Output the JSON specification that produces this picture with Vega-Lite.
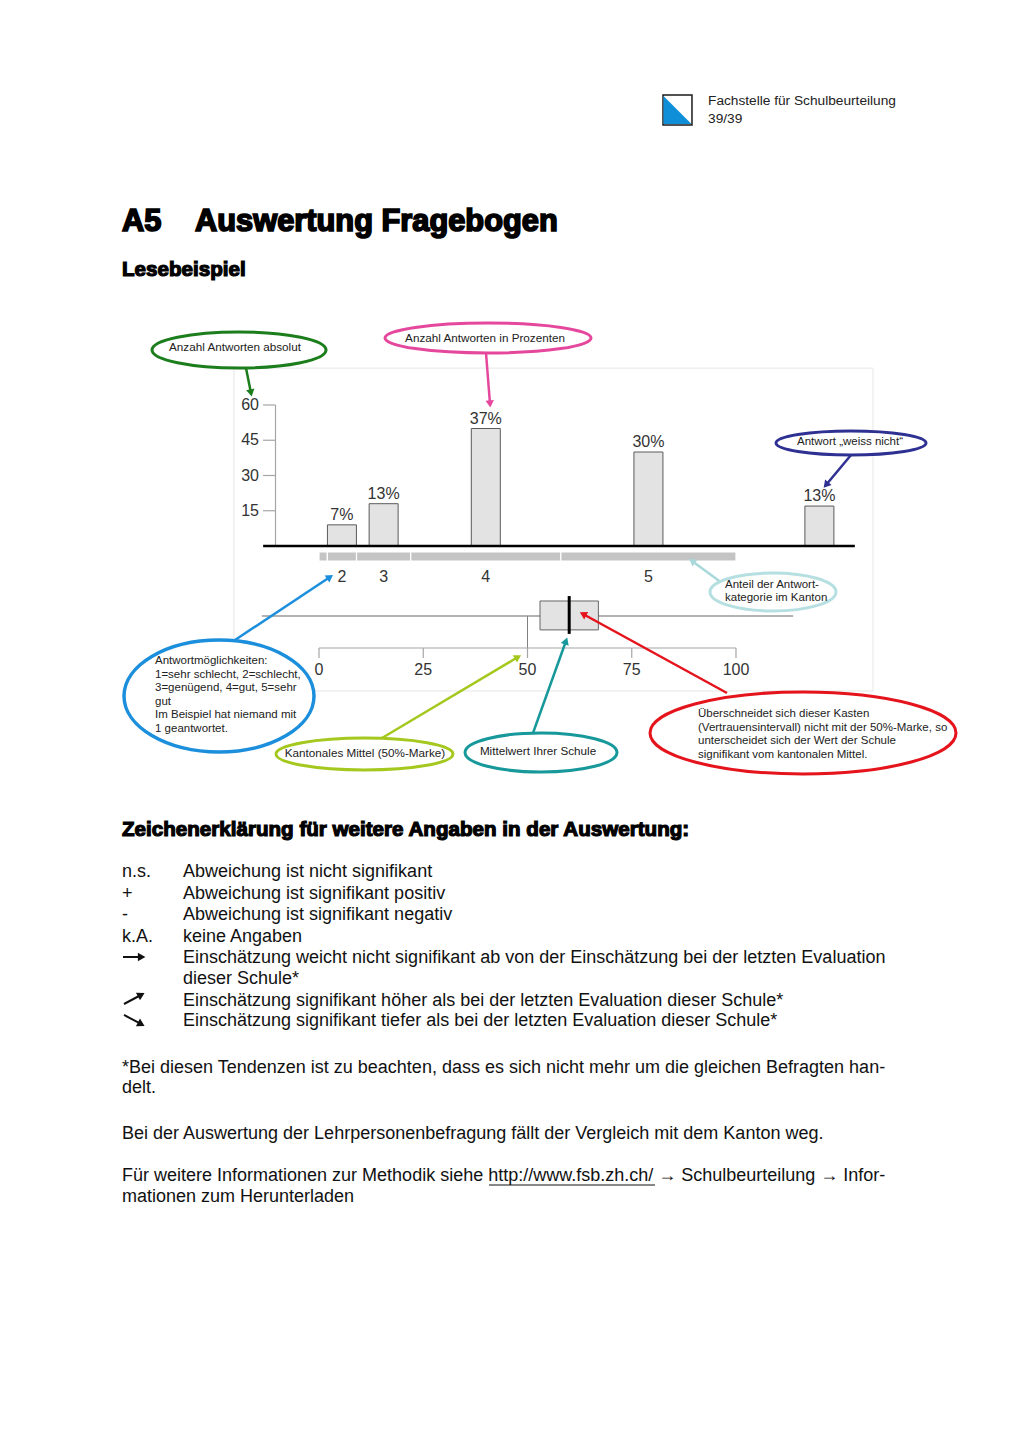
{
  "$schema": "https://vega.github.io/schema/vega-lite/v6.json",
  "width": 1024,
  "height": 1449,
  "autosize": {"type": "none"},
  "padding": 0,
  "background": "white",
  "config": {"view": {"stroke": null}, "font": "Liberation Sans"},
  "datasets": {
    "answers": [
      {"cat": "2", "mid": 5.5, "count": 9, "pct": "7%"},
      {"cat": "3", "mid": 15.5, "count": 18, "pct": "13%"},
      {"cat": "4", "mid": 40, "count": 50, "pct": "37%"},
      {"cat": "5", "mid": 79, "count": 40, "pct": "30%"},
      {"cat": "k.A.", "mid": 120, "count": 17, "pct": "13%"}
    ],
    "canton": [
      {"cat": "1", "start": 0, "end": 2},
      {"cat": "2", "start": 2, "end": 9},
      {"cat": "3", "start": 9, "end": 22},
      {"cat": "4", "start": 22, "end": 58},
      {"cat": "5", "start": 58, "end": 100}
    ],
    "school": [
      {"mean": 60, "ciLow": 53, "ciHigh": 67, "cantonMean": 50}
    ],
    "countTicks": [{"v": 15}, {"v": 30}, {"v": 45}, {"v": 60}],
    "scoreTicks": [{"v": 0}, {"v": 25}, {"v": 50}, {"v": 75}, {"v": 100}],
    "notes": [
      {"id": "abs", "label": "Anzahl Antworten absolut", "cu": -19.18, "cn": 83.4, "tu": -20.14, "tn": 84.68, "au": -17.51, "an": 75.74, "bu": -16.31, "bn": 65.11},
      {"id": "pct", "label": "Anzahl Antworten in Prozenten", "cu": 40.53, "cn": 88.51, "tu": 39.81, "tn": 88.64, "au": 40.05, "an": 82.13, "bu": 41.01, "bn": 60.43},
      {"id": "wn", "label": "Antwort „weiss nicht“", "cu": 127.58, "cn": 43.83, "tu": 127.34, "tn": 44.26, "au": 127.58, "an": 38.72, "bu": 121.58, "bn": 25.96},
      {"id": "ant", "label": "Anteil der Antwort-\nkategorie im Kanton", "cu": 108.87, "cn": -19.57, "tu": 97.36, "tn": -16.6, "au": 96.64, "an": -15.74, "bu": 89.45, "bn": -6.38},
      {"id": "opt", "label": "Antwortmöglichkeiten:\n1=sehr schlecht, 2=schlecht,\n3=genügend, 4=gut, 5=sehr\ngut\nIm Beispiel hat niemand mit\n1 geantwortet.", "cu": -23.98, "cn": -63.83, "tu": -39.33, "tn": -48.94, "au": -20.14, "an": -40.0, "bu": 2.64, "bn": -13.19},
      {"id": "km", "label": "Kantonales Mittel (50%-Marke)", "cu": 10.91, "cn": -88.51, "tu": 11.03, "tn": -88.09, "au": 15.11, "an": -81.7, "bu": 47.72, "bn": -47.23},
      {"id": "mw", "label": "Mittelwert Ihrer Schule", "cu": 53.24, "cn": -87.87, "tu": 52.52, "tn": -87.23, "au": 51.32, "an": -79.57, "bu": 59.23, "bn": -40.43},
      {"id": "ci", "label": "Überschneidet sich dieser Kasten\n(Vertrauensintervall) nicht mit der 50%-Marke, so\nunterscheidet sich der Wert der Schule\nsignifikant vom kantonalen Mittel.", "cu": 116.07, "cn": -79.57, "tu": 90.89, "tn": -71.49, "au": 97.84, "an": -62.55, "bu": 63.31, "bn": -28.94}
    ],
    "doc": [
      {"kind": "header", "text": "Fachstelle für Schulbeurteilung", "xcm": 14.52, "ycm": 2.152},
      {"kind": "header", "text": "39/39", "xcm": 14.52, "ycm": 2.521},
      {"kind": "logo", "text": "", "xcm": 13.597, "x2cm": 14.191, "ycm": 1.947, "y2cm": 2.562},
      {"kind": "h1", "text": "A5", "xcm": 2.502, "ycm": 4.735},
      {"kind": "h1", "text": "Auswertung Fragebogen", "xcm": 3.999, "ycm": 4.735},
      {"kind": "h2", "text": "Lesebeispiel", "xcm": 2.502, "ycm": 5.657},
      {"kind": "h2", "text": "Zeichenerklärung für weitere Angaben in der Auswertung:", "xcm": 2.502, "ycm": 17.135},
      {"kind": "body", "text": "n.s.", "xcm": 2.502, "ycm": 17.986},
      {"kind": "body", "text": "+", "xcm": 2.502, "ycm": 18.427},
      {"kind": "body", "text": "-", "xcm": 2.502, "ycm": 18.857},
      {"kind": "body", "text": "k.A.", "xcm": 2.502, "ycm": 19.298},
      {"kind": "body", "text": "Abweichung ist nicht signifikant", "xcm": 3.753, "ycm": 17.986},
      {"kind": "body", "text": "Abweichung ist signifikant positiv", "xcm": 3.753, "ycm": 18.427},
      {"kind": "body", "text": "Abweichung ist signifikant negativ", "xcm": 3.753, "ycm": 18.857},
      {"kind": "body", "text": "keine Angaben", "xcm": 3.753, "ycm": 19.298},
      {"kind": "body", "text": "Einschätzung weicht nicht signifikant ab von der Einschätzung bei der letzten Evaluation", "xcm": 3.753, "ycm": 19.738},
      {"kind": "body", "text": "dieser Schule*", "xcm": 3.753, "ycm": 20.179},
      {"kind": "body", "text": "Einschätzung signifikant höher als bei der letzten Evaluation dieser Schule*", "xcm": 3.753, "ycm": 20.61},
      {"kind": "body", "text": "Einschätzung signifikant tiefer als bei der letzten Evaluation dieser Schule*", "xcm": 3.753, "ycm": 21.04},
      {"kind": "body", "text": "*Bei diesen Tendenzen ist zu beachten, dass es sich nicht mehr um die gleichen Befragten han-", "xcm": 2.502, "ycm": 21.983},
      {"kind": "body", "text": "delt.", "xcm": 2.502, "ycm": 22.413},
      {"kind": "body", "text": "Bei der Auswertung der Lehrpersonenbefragung fällt der Vergleich mit dem Kanton weg.", "xcm": 2.502, "ycm": 23.336},
      {"kind": "body", "text": "Für weitere Informationen zur Methodik siehe http://www.fsb.zh.ch/ → Schulbeurteilung → Infor-", "xcm": 2.502, "ycm": 24.217},
      {"kind": "body", "text": "mationen zum Herunterladen", "xcm": 2.502, "ycm": 24.647},
      {"kind": "ul", "text": "", "xcm": 10.028, "x2cm": 13.433, "ycm": 24.289},
      {"kind": "sym", "text": "right", "xcm": 2.522, "x2cm": 2.851, "ycm": 19.615, "y2cm": 19.615, "hx": 2.905, "hy": 19.615},
      {"kind": "sym", "text": "up", "xcm": 2.543, "x2cm": 2.851, "ycm": 20.579, "y2cm": 20.415, "hx": 2.897, "hy": 20.39},
      {"kind": "sym", "text": "down", "xcm": 2.543, "x2cm": 2.851, "ycm": 20.804, "y2cm": 20.968, "hx": 2.897, "hy": 20.993}
    ]
  },
  "layer": [
    {
      "layer": [
        {
          "data": {"name": "school"},
          "mark": {"type": "rect", "fill": "white", "fillOpacity": 0, "stroke": "#e6e6e6", "strokeWidth": 1},
          "encoding": {
            "x": {"datum": -20.4, "type": "quantitative", "scale": {"domain": [0, 100], "range": [319, 736], "nice": false, "zero": false, "padding": 0}, "axis": null},
            "x2": {"datum": 132.85},
            "y": {"datum": 75.7, "type": "quantitative", "scale": {"domain": [0, 60], "range": [546, 405], "nice": false, "zero": false, "padding": 0}, "axis": null},
            "y2": {"datum": -61.7}
          }
        },
        {
          "data": {"name": "canton"},
          "mark": {"type": "rect", "fill": "#c4c4c4", "stroke": "white", "strokeWidth": 1.2},
          "encoding": {
            "x": {"field": "start", "type": "quantitative", "axis": null},
            "x2": {"field": "end"},
            "y": {"datum": -2.55, "type": "quantitative", "axis": null},
            "y2": {"datum": -6.4}
          }
        },
        {
          "data": {"name": "school"},
          "mark": {"type": "rule", "color": "#a6a6a6", "strokeWidth": 1.2},
          "encoding": {
            "x": {"datum": -10.43, "type": "quantitative", "axis": null},
            "y": {"datum": 0, "type": "quantitative", "axis": null},
            "y2": {"datum": 60}
          }
        },
        {
          "data": {"name": "countTicks"},
          "mark": {"type": "rule", "color": "#a6a6a6", "strokeWidth": 1.2},
          "encoding": {
            "x": {"datum": -13.43, "type": "quantitative", "axis": null},
            "x2": {"datum": -10.43},
            "y": {"field": "v", "type": "quantitative", "axis": null}
          }
        },
        {
          "data": {"name": "countTicks"},
          "mark": {"type": "text", "align": "right", "baseline": "middle", "fontSize": 16, "color": "#333333"},
          "encoding": {
            "x": {"datum": -14.4, "type": "quantitative", "axis": null},
            "y": {"field": "v", "type": "quantitative", "axis": null},
            "text": {"field": "v", "type": "quantitative"}
          }
        },
        {
          "data": {"name": "answers"},
          "mark": {"type": "bar", "orient": "vertical", "width": 29, "fill": "#e3e3e3", "stroke": "#5a5a5a", "strokeWidth": 1},
          "encoding": {
            "x": {"field": "mid", "type": "quantitative", "axis": null},
            "y": {"field": "count", "type": "quantitative", "axis": null},
            "y2": {"datum": 0}
          }
        },
        {
          "data": {"name": "answers"},
          "mark": {"type": "text", "baseline": "bottom", "align": "center", "dy": -2, "fontSize": 16, "color": "#333333"},
          "encoding": {
            "x": {"field": "mid", "type": "quantitative", "axis": null},
            "y": {"field": "count", "type": "quantitative", "axis": null},
            "text": {"field": "pct"}
          }
        },
        {
          "data": {"name": "answers"},
          "transform": [{"filter": "datum.cat != 'k.A.'"}],
          "mark": {"type": "text", "baseline": "middle", "align": "center", "fontSize": 16, "color": "#333333"},
          "encoding": {
            "x": {"field": "mid", "type": "quantitative", "axis": null},
            "y": {"datum": -13.2, "type": "quantitative", "axis": null},
            "text": {"field": "cat"}
          }
        },
        {
          "data": {"name": "school"},
          "mark": {"type": "rule", "color": "black", "strokeWidth": 2.5},
          "encoding": {
            "x": {"datum": -13.4, "type": "quantitative", "axis": null},
            "x2": {"datum": 128.5},
            "y": {"datum": 0, "type": "quantitative", "axis": null}
          }
        },
        {
          "data": {"name": "school"},
          "mark": {"type": "rule", "color": "#9a9a9a", "strokeWidth": 1.5},
          "encoding": {
            "x": {"datum": -13.7, "type": "quantitative", "axis": null},
            "x2": {"datum": 113.7},
            "y": {"datum": -29.8, "type": "quantitative", "axis": null}
          }
        },
        {
          "data": {"name": "school"},
          "mark": {"type": "rule", "color": "#808080", "strokeWidth": 1},
          "encoding": {
            "x": {"field": "cantonMean", "type": "quantitative", "axis": null},
            "y": {"datum": -29.8, "type": "quantitative", "axis": null},
            "y2": {"datum": -43.4}
          }
        },
        {
          "data": {"name": "school"},
          "mark": {"type": "rect", "fill": "#e3e3e3", "stroke": "#666666", "strokeWidth": 1},
          "encoding": {
            "x": {"field": "ciLow", "type": "quantitative", "axis": null},
            "x2": {"field": "ciHigh"},
            "y": {"datum": -23.4, "type": "quantitative", "axis": null},
            "y2": {"datum": -35.7}
          }
        },
        {
          "data": {"name": "school"},
          "mark": {"type": "rule", "color": "black", "strokeWidth": 3},
          "encoding": {
            "x": {"field": "mean", "type": "quantitative", "axis": null},
            "y": {"datum": -21.3, "type": "quantitative", "axis": null},
            "y2": {"datum": -37.4}
          }
        },
        {
          "data": {"name": "school"},
          "mark": {"type": "rule", "color": "#a6a6a6", "strokeWidth": 1.2},
          "encoding": {
            "x": {"datum": 0, "type": "quantitative", "axis": null},
            "x2": {"datum": 100},
            "y": {"datum": -43.4, "type": "quantitative", "axis": null}
          }
        },
        {
          "data": {"name": "scoreTicks"},
          "mark": {"type": "rule", "color": "#a6a6a6", "strokeWidth": 1.2},
          "encoding": {
            "x": {"field": "v", "type": "quantitative", "axis": null},
            "y": {"datum": -43.4, "type": "quantitative", "axis": null},
            "y2": {"datum": -47.66}
          }
        },
        {
          "data": {"name": "scoreTicks"},
          "mark": {"type": "text", "align": "center", "baseline": "middle", "fontSize": 16, "color": "#333333"},
          "encoding": {
            "x": {"field": "v", "type": "quantitative", "axis": null},
            "y": {"datum": -52.77, "type": "quantitative", "axis": null},
            "text": {"field": "v", "type": "quantitative"}
          }
        },
        {
          "data": {"name": "notes"},
          "transform": [{"filter": "datum.id == 'abs'"}],
          "layer": [
            {"mark": {"type": "rule", "color": "#1b7d1b", "strokeWidth": 2.5},
             "encoding": {"x": {"field": "au", "type": "quantitative", "axis": null}, "y": {"field": "an", "type": "quantitative", "axis": null}, "x2": {"field": "bu"}, "y2": {"field": "bn"}}},
            {"mark": {"type": "point", "shape": "triangle-up", "filled": true, "fill": "#1b7d1b", "opacity": 1, "size": 70, "angle": 168.7},
             "encoding": {"x": {"field": "bu", "type": "quantitative", "axis": null}, "y": {"field": "bn", "type": "quantitative", "axis": null}}},
            {"mark": {"type": "point", "shape": "M-1,0C-1,-0.1143 -0.5523,-0.2069 0,-0.2069C0.5523,-0.2069 1,-0.1143 1,0C1,0.1143 0.5523,0.2069 0,0.2069C-0.5523,0.2069 -1,0.1143 -1,0Z", "filled": true, "fill": "white", "stroke": "#1b7d1b", "strokeWidth": 3, "opacity": 1, "size": 30276},
             "encoding": {"x": {"field": "cu", "type": "quantitative", "axis": null}, "y": {"field": "cn", "type": "quantitative", "axis": null}}},
            {"mark": {"type": "text", "align": "center", "baseline": "middle", "fontSize": 11.7, "color": "#222222", "lineBreak": "\n", "lineHeight": 13.6},
             "encoding": {"x": {"field": "tu", "type": "quantitative", "axis": null}, "y": {"field": "tn", "type": "quantitative", "axis": null}, "text": {"field": "label"}}}
          ]
        },
        {
          "data": {"name": "notes"},
          "transform": [{"filter": "datum.id == 'pct'"}],
          "layer": [
            {"mark": {"type": "rule", "color": "#e5479c", "strokeWidth": 2.5},
             "encoding": {"x": {"field": "au", "type": "quantitative", "axis": null}, "y": {"field": "an", "type": "quantitative", "axis": null}, "x2": {"field": "bu"}, "y2": {"field": "bn"}}},
            {"mark": {"type": "point", "shape": "triangle-up", "filled": true, "fill": "#e5479c", "opacity": 1, "size": 70, "angle": 175.5},
             "encoding": {"x": {"field": "bu", "type": "quantitative", "axis": null}, "y": {"field": "bn", "type": "quantitative", "axis": null}}},
            {"mark": {"type": "point", "shape": "M-1,0C-1,-0.0804 -0.5523,-0.1456 0,-0.1456C0.5523,-0.1456 1,-0.0804 1,0C1,0.0804 0.5523,0.1456 0,0.1456C-0.5523,0.1456 -1,0.0804 -1,0Z", "filled": true, "fill": "white", "stroke": "#e5479c", "strokeWidth": 3, "opacity": 1, "size": 42436},
             "encoding": {"x": {"field": "cu", "type": "quantitative", "axis": null}, "y": {"field": "cn", "type": "quantitative", "axis": null}}},
            {"mark": {"type": "text", "align": "center", "baseline": "middle", "fontSize": 11.7, "color": "#222222", "lineBreak": "\n", "lineHeight": 13.6},
             "encoding": {"x": {"field": "tu", "type": "quantitative", "axis": null}, "y": {"field": "tn", "type": "quantitative", "axis": null}, "text": {"field": "label"}}}
          ]
        },
        {
          "data": {"name": "notes"},
          "transform": [{"filter": "datum.id == 'wn'"}],
          "layer": [
            {"mark": {"type": "rule", "color": "#2e3192", "strokeWidth": 2.5},
             "encoding": {"x": {"field": "au", "type": "quantitative", "axis": null}, "y": {"field": "an", "type": "quantitative", "axis": null}, "x2": {"field": "bu"}, "y2": {"field": "bn"}}},
            {"mark": {"type": "point", "shape": "triangle-up", "filled": true, "fill": "#2e3192", "opacity": 1, "size": 70, "angle": 219.8},
             "encoding": {"x": {"field": "bu", "type": "quantitative", "axis": null}, "y": {"field": "bn", "type": "quantitative", "axis": null}}},
            {"mark": {"type": "point", "shape": "M-1,0C-1,-0.0884 -0.5523,-0.16 0,-0.16C0.5523,-0.16 1,-0.0884 1,0C1,0.0884 0.5523,0.16 0,0.16C-0.5523,0.16 -1,0.0884 -1,0Z", "filled": true, "fill": "white", "stroke": "#2e3192", "strokeWidth": 3, "opacity": 1, "size": 22500},
             "encoding": {"x": {"field": "cu", "type": "quantitative", "axis": null}, "y": {"field": "cn", "type": "quantitative", "axis": null}}},
            {"mark": {"type": "text", "align": "center", "baseline": "middle", "fontSize": 11.5, "color": "#222222", "lineBreak": "\n", "lineHeight": 13.6},
             "encoding": {"x": {"field": "tu", "type": "quantitative", "axis": null}, "y": {"field": "tn", "type": "quantitative", "axis": null}, "text": {"field": "label"}}}
          ]
        },
        {
          "data": {"name": "notes"},
          "transform": [{"filter": "datum.id == 'ant'"}],
          "layer": [
            {"mark": {"type": "rule", "color": "#a9d8db", "strokeWidth": 2.5},
             "encoding": {"x": {"field": "au", "type": "quantitative", "axis": null}, "y": {"field": "an", "type": "quantitative", "axis": null}, "x2": {"field": "bu"}, "y2": {"field": "bn"}}},
            {"mark": {"type": "point", "shape": "triangle-up", "filled": true, "fill": "#a9d8db", "opacity": 1, "size": 70, "angle": 306.3},
             "encoding": {"x": {"field": "bu", "type": "quantitative", "axis": null}, "y": {"field": "bn", "type": "quantitative", "axis": null}}},
            {"mark": {"type": "point", "shape": "M-1,0C-1,-0.1666 -0.5523,-0.3016 0,-0.3016C0.5523,-0.3016 1,-0.1666 1,0C1,0.1666 0.5523,0.3016 0,0.3016C-0.5523,0.3016 -1,0.1666 -1,0Z", "filled": true, "fill": "white", "stroke": "#b5dfe1", "strokeWidth": 3, "opacity": 1, "size": 15876},
             "encoding": {"x": {"field": "cu", "type": "quantitative", "axis": null}, "y": {"field": "cn", "type": "quantitative", "axis": null}}},
            {"mark": {"type": "text", "align": "left", "baseline": "middle", "fontSize": 11.5, "color": "#222222", "lineBreak": "\n", "lineHeight": 13.4},
             "encoding": {"x": {"field": "tu", "type": "quantitative", "axis": null}, "y": {"field": "tn", "type": "quantitative", "axis": null}, "text": {"field": "label"}}}
          ]
        },
        {
          "data": {"name": "notes"},
          "transform": [{"filter": "datum.id == 'opt'"}],
          "layer": [
            {"mark": {"type": "rule", "color": "#1c8fdc", "strokeWidth": 2.5},
             "encoding": {"x": {"field": "au", "type": "quantitative", "axis": null}, "y": {"field": "an", "type": "quantitative", "axis": null}, "x2": {"field": "bu"}, "y2": {"field": "bn"}}},
            {"mark": {"type": "point", "shape": "triangle-up", "filled": true, "fill": "#1c8fdc", "opacity": 1, "size": 70, "angle": 56.4},
             "encoding": {"x": {"field": "bu", "type": "quantitative", "axis": null}, "y": {"field": "bn", "type": "quantitative", "axis": null}}},
            {"mark": {"type": "point", "shape": "M-1,0C-1,-0.3256 -0.5523,-0.5895 0,-0.5895C0.5523,-0.5895 1,-0.3256 1,0C1,0.3256 0.5523,0.5895 0,0.5895C-0.5523,0.5895 -1,0.3256 -1,0Z", "filled": true, "fill": "white", "stroke": "#1c8fdc", "strokeWidth": 3.5, "opacity": 1, "size": 36100},
             "encoding": {"x": {"field": "cu", "type": "quantitative", "axis": null}, "y": {"field": "cn", "type": "quantitative", "axis": null}}},
            {"mark": {"type": "text", "align": "left", "baseline": "middle", "fontSize": 11.5, "color": "#222222", "lineBreak": "\n", "lineHeight": 13.6},
             "encoding": {"x": {"field": "tu", "type": "quantitative", "axis": null}, "y": {"field": "tn", "type": "quantitative", "axis": null}, "text": {"field": "label"}}}
          ]
        },
        {
          "data": {"name": "notes"},
          "transform": [{"filter": "datum.id == 'km'"}],
          "layer": [
            {"mark": {"type": "rule", "color": "#a5c81f", "strokeWidth": 2.5},
             "encoding": {"x": {"field": "au", "type": "quantitative", "axis": null}, "y": {"field": "an", "type": "quantitative", "axis": null}, "x2": {"field": "bu"}, "y2": {"field": "bn"}}},
            {"mark": {"type": "point", "shape": "triangle-up", "filled": true, "fill": "#a5c81f", "opacity": 1, "size": 70, "angle": 59.2},
             "encoding": {"x": {"field": "bu", "type": "quantitative", "axis": null}, "y": {"field": "bn", "type": "quantitative", "axis": null}}},
            {"mark": {"type": "point", "shape": "M-1,0C-1,-0.0999 -0.5523,-0.1808 0,-0.1808C0.5523,-0.1808 1,-0.0999 1,0C1,0.0999 0.5523,0.1808 0,0.1808C-0.5523,0.1808 -1,0.0999 -1,0Z", "filled": true, "fill": "white", "stroke": "#a5c81f", "strokeWidth": 3, "opacity": 1, "size": 31329},
             "encoding": {"x": {"field": "cu", "type": "quantitative", "axis": null}, "y": {"field": "cn", "type": "quantitative", "axis": null}}},
            {"mark": {"type": "text", "align": "center", "baseline": "middle", "fontSize": 11.7, "color": "#222222", "lineBreak": "\n", "lineHeight": 13.6},
             "encoding": {"x": {"field": "tu", "type": "quantitative", "axis": null}, "y": {"field": "tn", "type": "quantitative", "axis": null}, "text": {"field": "label"}}}
          ]
        },
        {
          "data": {"name": "notes"},
          "transform": [{"filter": "datum.id == 'mw'"}],
          "layer": [
            {"mark": {"type": "rule", "color": "#17989a", "strokeWidth": 2.5},
             "encoding": {"x": {"field": "au", "type": "quantitative", "axis": null}, "y": {"field": "an", "type": "quantitative", "axis": null}, "x2": {"field": "bu"}, "y2": {"field": "bn"}}},
            {"mark": {"type": "point", "shape": "triangle-up", "filled": true, "fill": "#17989a", "opacity": 1, "size": 70, "angle": 19.7},
             "encoding": {"x": {"field": "bu", "type": "quantitative", "axis": null}, "y": {"field": "bn", "type": "quantitative", "axis": null}}},
            {"mark": {"type": "point", "shape": "M-1,0C-1,-0.1417 -0.5523,-0.2566 0,-0.2566C0.5523,-0.2566 1,-0.1417 1,0C1,0.1417 0.5523,0.2566 0,0.2566C-0.5523,0.2566 -1,0.1417 -1,0Z", "filled": true, "fill": "white", "stroke": "#17989a", "strokeWidth": 3, "opacity": 1, "size": 23104},
             "encoding": {"x": {"field": "cu", "type": "quantitative", "axis": null}, "y": {"field": "cn", "type": "quantitative", "axis": null}}},
            {"mark": {"type": "text", "align": "center", "baseline": "middle", "fontSize": 11.7, "color": "#222222", "lineBreak": "\n", "lineHeight": 13.6},
             "encoding": {"x": {"field": "tu", "type": "quantitative", "axis": null}, "y": {"field": "tn", "type": "quantitative", "axis": null}, "text": {"field": "label"}}}
          ]
        },
        {
          "data": {"name": "notes"},
          "transform": [{"filter": "datum.id == 'ci'"}],
          "layer": [
            {"mark": {"type": "rule", "color": "#e5141c", "strokeWidth": 2.5},
             "encoding": {"x": {"field": "au", "type": "quantitative", "axis": null}, "y": {"field": "an", "type": "quantitative", "axis": null}, "x2": {"field": "bu"}, "y2": {"field": "bn"}}},
            {"mark": {"type": "point", "shape": "triangle-up", "filled": true, "fill": "#e5141c", "opacity": 1, "size": 70, "angle": 298.7},
             "encoding": {"x": {"field": "bu", "type": "quantitative", "axis": null}, "y": {"field": "bn", "type": "quantitative", "axis": null}}},
            {"mark": {"type": "point", "shape": "M-1,0C-1,-0.148 -0.5523,-0.268 0,-0.268C0.5523,-0.268 1,-0.148 1,0C1,0.148 0.5523,0.268 0,0.268C-0.5523,0.268 -1,0.148 -1,0Z", "filled": true, "fill": "white", "stroke": "#e5141c", "strokeWidth": 3, "opacity": 1, "size": 93636},
             "encoding": {"x": {"field": "cu", "type": "quantitative", "axis": null}, "y": {"field": "cn", "type": "quantitative", "axis": null}}},
            {"mark": {"type": "text", "align": "left", "baseline": "middle", "fontSize": 11.5, "color": "#222222", "lineBreak": "\n", "lineHeight": 13.6},
             "encoding": {"x": {"field": "tu", "type": "quantitative", "axis": null}, "y": {"field": "tn", "type": "quantitative", "axis": null}, "text": {"field": "label"}}}
          ]
        }
      ]
    },
    {
      "layer": [
        {
          "data": {"name": "doc"},
          "transform": [{"filter": "datum.kind == 'header'"}],
          "mark": {"type": "text", "align": "left", "baseline": "alphabetic", "fontSize": 13.7, "color": "#222222", "font": "Liberation Sans"},
          "encoding": {
            "x": {"field": "xcm", "type": "quantitative", "scale": {"domain": [0, 21], "range": [0, 1024], "nice": false, "zero": false, "padding": 0}, "axis": null},
            "y": {"field": "ycm", "type": "quantitative", "scale": {"domain": [0, 29.7], "range": [0, 1449], "nice": false, "zero": false, "padding": 0}, "axis": null},
            "text": {"field": "text"}
          }
        },
        {
          "data": {"name": "doc"},
          "transform": [{"filter": "datum.kind == 'logo'"}],
          "mark": {"type": "rect", "fill": "white", "stroke": "#1a1a1a", "strokeWidth": 1.5},
          "encoding": {
            "x": {"field": "xcm", "type": "quantitative", "axis": null},
            "x2": {"field": "x2cm"},
            "y": {"field": "ycm", "type": "quantitative", "axis": null},
            "y2": {"field": "y2cm"}
          }
        },
        {
          "data": {"name": "doc"},
          "transform": [{"filter": "datum.kind == 'logo'"}],
          "mark": {"type": "point", "shape": "M-1,-1L-1,1L1,1Z", "filled": true, "fill": "#0f8fd8", "opacity": 1, "size": 784, "strokeWidth": 0},
          "encoding": {
            "x": {"field": "xcm", "type": "quantitative", "axis": null},
            "xOffset": {"value": 14.5},
            "y": {"field": "ycm", "type": "quantitative", "axis": null},
            "yOffset": {"value": 15}
          }
        },
        {
          "data": {"name": "doc"},
          "transform": [{"filter": "datum.kind == 'h1'"}],
          "mark": {"type": "text", "align": "left", "baseline": "alphabetic", "fontSize": 30.8, "fontWeight": "bold", "color": "black", "stroke": "black", "strokeWidth": 1.7, "font": "Liberation Sans"},
          "encoding": {
            "x": {"field": "xcm", "type": "quantitative", "axis": null},
            "y": {"field": "ycm", "type": "quantitative", "axis": null},
            "text": {"field": "text"}
          }
        },
        {
          "data": {"name": "doc"},
          "transform": [{"filter": "datum.kind == 'h2'"}],
          "mark": {"type": "text", "align": "left", "baseline": "alphabetic", "fontSize": 20.6, "fontWeight": "bold", "color": "black", "stroke": "black", "strokeWidth": 1.2, "font": "Liberation Sans"},
          "encoding": {
            "x": {"field": "xcm", "type": "quantitative", "axis": null},
            "y": {"field": "ycm", "type": "quantitative", "axis": null},
            "text": {"field": "text"}
          }
        },
        {
          "data": {"name": "doc"},
          "transform": [{"filter": "datum.kind == 'body'"}],
          "mark": {"type": "text", "align": "left", "baseline": "alphabetic", "fontSize": 18, "color": "#111111", "font": "Liberation Sans"},
          "encoding": {
            "x": {"field": "xcm", "type": "quantitative", "axis": null},
            "y": {"field": "ycm", "type": "quantitative", "axis": null},
            "text": {"field": "text"}
          }
        },
        {
          "data": {"name": "doc"},
          "transform": [{"filter": "datum.kind == 'sym'"}],
          "mark": {"type": "rule", "color": "#111111", "strokeWidth": 2},
          "encoding": {
            "x": {"field": "xcm", "type": "quantitative", "axis": null},
            "x2": {"field": "x2cm"},
            "y": {"field": "ycm", "type": "quantitative", "axis": null},
            "y2": {"field": "y2cm"}
          }
        },
        {
          "data": {"name": "doc"},
          "transform": [{"filter": "datum.kind == 'sym' && datum.text == 'right'"}],
          "mark": {"type": "point", "shape": "triangle-up", "angle": 90, "filled": true, "fill": "#111111", "opacity": 1, "size": 75, "strokeWidth": 0},
          "encoding": {
            "x": {"field": "hx", "type": "quantitative", "axis": null},
            "y": {"field": "hy", "type": "quantitative", "axis": null}
          }
        },
        {
          "data": {"name": "doc"},
          "transform": [{"filter": "datum.kind == 'sym' && datum.text == 'up'"}],
          "mark": {"type": "point", "shape": "triangle-up", "angle": 62, "filled": true, "fill": "#111111", "opacity": 1, "size": 75, "strokeWidth": 0},
          "encoding": {
            "x": {"field": "hx", "type": "quantitative", "axis": null},
            "y": {"field": "hy", "type": "quantitative", "axis": null}
          }
        },
        {
          "data": {"name": "doc"},
          "transform": [{"filter": "datum.kind == 'sym' && datum.text == 'down'"}],
          "mark": {"type": "point", "shape": "triangle-up", "angle": 118, "filled": true, "fill": "#111111", "opacity": 1, "size": 75, "strokeWidth": 0},
          "encoding": {
            "x": {"field": "hx", "type": "quantitative", "axis": null},
            "y": {"field": "hy", "type": "quantitative", "axis": null}
          }
        },
        {
          "data": {"name": "doc"},
          "transform": [{"filter": "datum.kind == 'ul'"}],
          "mark": {"type": "rule", "color": "#111111", "strokeWidth": 1},
          "encoding": {
            "x": {"field": "xcm", "type": "quantitative", "axis": null},
            "x2": {"field": "x2cm"},
            "y": {"field": "ycm", "type": "quantitative", "axis": null}
          }
        }
      ]
    }
  ],
  "resolve": {
    "scale": {"x": "independent", "y": "independent"},
    "axis": {"x": "independent", "y": "independent"}
  }
}
